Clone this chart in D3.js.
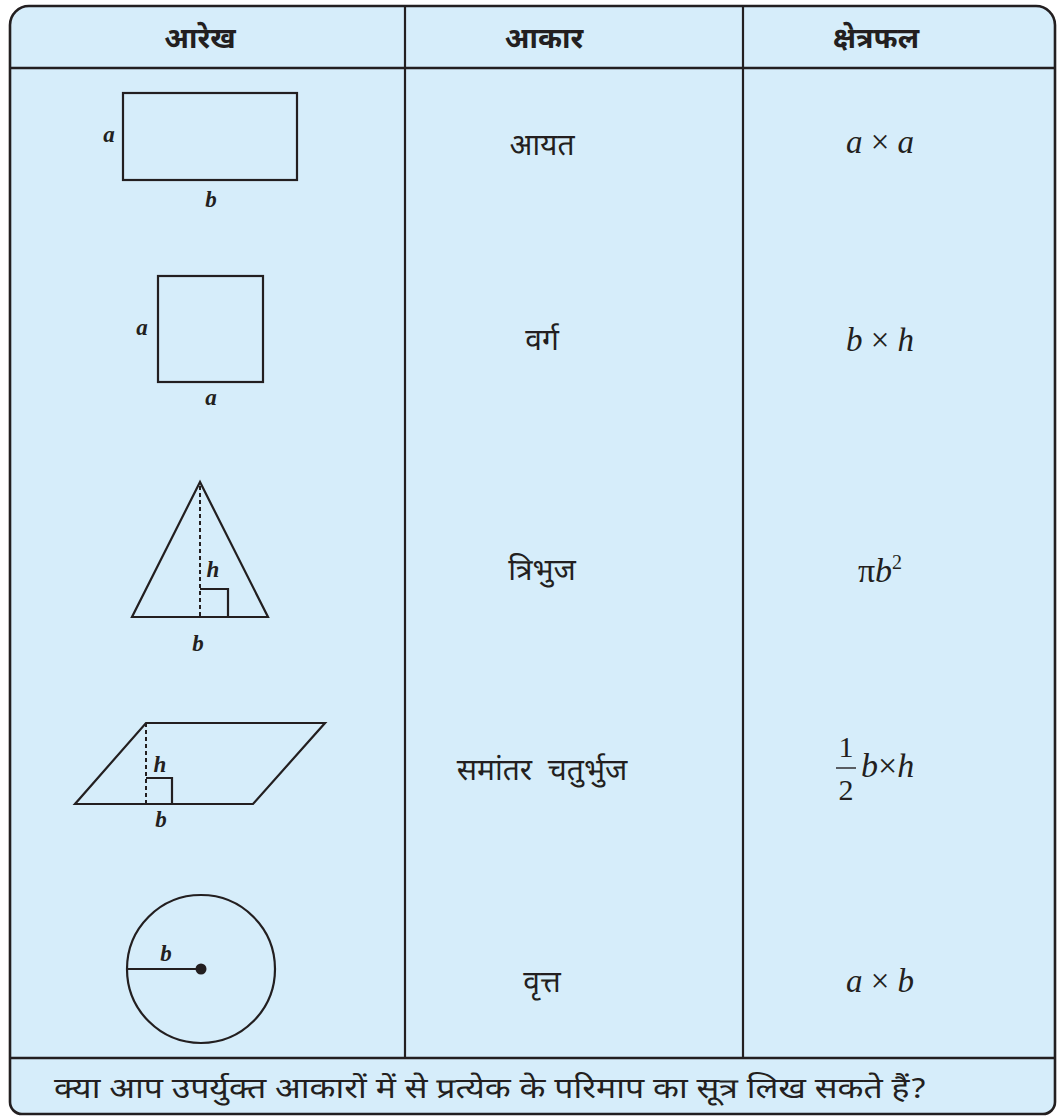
<!DOCTYPE html>
<html><head><meta charset="utf-8">
<script src="https://cdn.jsdelivr.net/npm/d3@7"></script>
<style>
html,body{margin:0;padding:0;background:#fff;}
svg{display:block;}
</style></head>
<body>
<script>
// ---- data ----
const headers = ["आरेख", "आकार", "क्षेत्रफल"];
const shapeNames = ["आयत", "वर्ग", "त्रिभुज", "समांतर चतुर्भुज", "वृत्त"];
const areaFormulas = ["a × a", "b × h", "πb²", "½ b × h", "a × b"];
const shapeKinds = ["rectangle", "square", "triangle", "parallelogram", "circle"];
const footerText = "क्या आप उपर्युक्त आकारों में से प्रत्येक के परिमाप का सूत्र लिख सकते हैं?";

// ---- layout ----
const W = 1060, H = 1118;
const L = 10, R = 1055, T = 6, B = 1114;
const headY = 68, footY = 1058;
const colX = [L, 405, 743, R];
const headerCx = [200, 544, 876];
const nameCx = 542, formulaCx = 880;
const nameBaselines = [155, 350, 580, 780, 992];
const formulaBaselines = [153, 351, 582, 777, 992];
const ink = "#231f20", fill = "#d6edfa";
const DEV = '"Noto Sans Devanagari","Noto Sans",sans-serif';
const SERIF = '"Liberation Serif","Times New Roman",serif';

const svg = d3.select("body").append("svg").attr("width", W).attr("height", H);

const xHead = d3.scaleOrdinal().domain(headers).range(headerCx);
const yName = d3.scaleOrdinal().domain(shapeNames).range(nameBaselines);
const yFormula = d3.scaleOrdinal().domain(areaFormulas).range(formulaBaselines);

// outer frame
const rT = 19, rB = 12;
const p = d3.path();
p.moveTo(L + rT, T);
p.lineTo(R - rT, T);
p.arcTo(R, T, R, T + rT, rT);
p.lineTo(R, B - rB);
p.arcTo(R, B, R - rB, B, rB);
p.lineTo(L + rB, B);
p.arcTo(L, B, L, B - rB, rB);
p.lineTo(L, T + rT);
p.arcTo(L, T, L + rT, T, rT);
p.closePath();
svg.append("path").attr("d", p.toString()).attr("fill", fill).attr("stroke", ink).attr("stroke-width", 2.6);

// grid lines
[headY, footY].forEach(y => {
  svg.append("line").attr("x1", L).attr("x2", R).attr("y1", y).attr("y2", y).attr("stroke", ink).attr("stroke-width", 2.4);
});
[colX[1], colX[2]].forEach(x => {
  svg.append("line").attr("x1", x).attr("x2", x).attr("y1", T).attr("y2", footY).attr("stroke", ink).attr("stroke-width", 2.2);
});

// headers
svg.selectAll("text.hd").data(headers).join("text")
  .attr("class", "hd")
  .attr("x", d => xHead(d)).attr("y", 48)
  .attr("text-anchor", "middle")
  .style("font-family", DEV).style("font-size", "29px").style("font-weight", "bold")
  .attr("fill", ink)
  .text(d => d);

// shape names
svg.selectAll("text.nm").data(shapeNames).join("text")
  .attr("class", "nm")
  .attr("x", nameCx)
  .attr("y", d => yName(d))
  .attr("text-anchor", "middle")
  .style("font-family", DEV).style("font-size", "30px").style("word-spacing", "8px")
  .attr("fill", ink)
  .text(d => d);

// formulas
function mtext(sel) {
  return sel.style("font-family", SERIF).style("font-style", "italic").attr("fill", ink);
}
areaFormulas.forEach((f, i) => {
  const y = yFormula(f);
  if (i === 2) {
    const t = mtext(svg.append("text")).attr("x", formulaCx).attr("y", y)
      .attr("text-anchor", "middle").style("font-size", "34px");
    t.append("tspan").style("font-style", "normal").text("π");
    t.append("tspan").text("b");
    t.append("tspan").style("font-style", "normal").style("font-size", "20px").attr("dy", -13).text("2");
  } else if (i === 3) {
    const fxL = 846;
    mtext(svg.append("text")).attr("x", fxL).attr("y", 757).attr("text-anchor", "middle")
      .style("font-style", "normal").style("font-size", "30px").text("1");
    svg.append("line").attr("x1", fxL - 10).attr("x2", fxL + 10).attr("y1", 768).attr("y2", 768)
      .attr("stroke", ink).attr("stroke-width", 1.4);
    mtext(svg.append("text")).attr("x", fxL).attr("y", 800).attr("text-anchor", "middle")
      .style("font-style", "normal").style("font-size", "30px").text("2");
    const t = mtext(svg.append("text")).attr("x", 861).attr("y", y).style("font-size", "34px");
    t.append("tspan").text("b");
    t.append("tspan").style("font-style", "normal").text("×");
    t.append("tspan").text("h");
  } else {
    const parts = f.split(" × ");
    const t = mtext(svg.append("text")).attr("x", formulaCx).attr("y", y)
      .attr("text-anchor", "middle").style("font-size", "33px");
    t.append("tspan").text(parts[0] + " ");
    t.append("tspan").style("font-style", "normal").text("×");
    t.append("tspan").text(" " + parts[1]);
  }
});

// shapes
const sw = 2.2;
function lbl(x, y, s) {
  svg.append("text").attr("x", x).attr("y", y)
    .attr("text-anchor", "middle")
    .style("font-family", SERIF).style("font-style", "italic").style("font-weight", "bold")
    .style("font-size", "23px").attr("fill", ink).text(s);
}
shapeKinds.forEach((k) => {
  if (k === "rectangle") {
    svg.append("rect").attr("x", 123).attr("y", 93).attr("width", 174).attr("height", 87)
      .attr("fill", "none").attr("stroke", ink).attr("stroke-width", sw);
    lbl(109, 142, "a"); lbl(211, 207, "b");
  } else if (k === "square") {
    svg.append("rect").attr("x", 158).attr("y", 276).attr("width", 105).attr("height", 106)
      .attr("fill", "none").attr("stroke", ink).attr("stroke-width", sw);
    lbl(142, 335, "a"); lbl(211, 405, "a");
  } else if (k === "triangle") {
    const ax = 200, ay = 482, by = 617;
    svg.append("path").attr("d", `M${ax},${ay}L132,${by}L268,${by}Z`)
      .attr("fill", "none").attr("stroke", ink).attr("stroke-width", sw);
    svg.append("line").attr("x1", ax).attr("x2", ax).attr("y1", ay + 4).attr("y2", by)
      .attr("stroke", ink).attr("stroke-width", 2).attr("stroke-dasharray", "4,3");
    svg.append("path").attr("d", `M${ax},${by-28}L228,${by-28}L228,${by}`)
      .attr("fill", "none").attr("stroke", ink).attr("stroke-width", sw);
    lbl(213, 577, "h"); lbl(198, 651, "b");
  } else if (k === "parallelogram") {
    const ty = 723, by = 804;
    svg.append("path").attr("d", `M146,${ty}L325,${ty}L253,${by}L75,${by}Z`)
      .attr("fill", "none").attr("stroke", ink).attr("stroke-width", sw);
    svg.append("line").attr("x1", 146).attr("x2", 146).attr("y1", ty).attr("y2", by)
      .attr("stroke", ink).attr("stroke-width", 2).attr("stroke-dasharray", "4,3");
    svg.append("path").attr("d", `M146,${by-26}L172,${by-26}L172,${by}`)
      .attr("fill", "none").attr("stroke", ink).attr("stroke-width", sw);
    lbl(160, 772, "h"); lbl(161, 827, "b");
  } else if (k === "circle") {
    const ccx = 201, ccy = 969, r = 74;
    svg.append("circle").attr("cx", ccx).attr("cy", ccy).attr("r", r)
      .attr("fill", "none").attr("stroke", ink).attr("stroke-width", sw);
    svg.append("line").attr("x1", ccx - r).attr("x2", ccx).attr("y1", ccy).attr("y2", ccy)
      .attr("stroke", ink).attr("stroke-width", 2);
    svg.append("circle").attr("cx", ccx).attr("cy", ccy).attr("r", 5.5).attr("fill", ink);
    lbl(166, 961, "b");
  }
});

// footer
svg.append("text")
  .attr("x", 54).attr("y", 1098)
  .style("font-family", DEV).style("font-size", "28px")
  .attr("fill", ink)
  .attr("textLength", 873).attr("lengthAdjust", "spacingAndGlyphs")
  .text(footerText);
</script>
</body></html>
